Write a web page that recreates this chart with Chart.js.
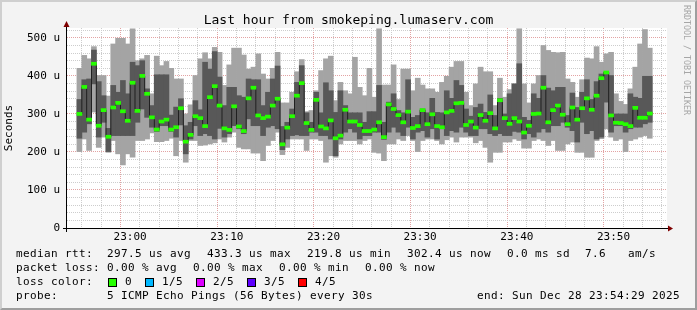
<!DOCTYPE html>
<html>
<head>
<meta charset="utf-8">
<title>smokeping</title>
<script src="https://cdn.jsdelivr.net/npm/chart.js@4/dist/chart.umd.min.js"></script>
<style>
  html, body { margin: 0; padding: 0; background: #f3f3f3; }
  #wrap { position: relative; width: 697px; height: 310px; overflow: hidden; font-family: 'DejaVu Sans Mono', monospace; color: #000; }
  #frame { position: absolute; left: 0; top: 0; width: 697px; height: 310px; box-sizing: border-box;
           border-top: 2px solid #cfcfcf; border-left: 2px solid #cfcfcf;
           border-right: 2px solid #9e9e9e; border-bottom: 2px solid #9e9e9e; pointer-events: none; }
  canvas { position: absolute; left: 0; top: 0; }
  .t { position: absolute; white-space: pre; font-size: 11px; line-height: 14px; letter-spacing: 0.38px; }
  .box { position: absolute; width: 7px; height: 7px; border: 1px solid #000; }
  #title { position: absolute; left: 0; width: 697px; top: 12px; text-align: center; font-size: 13px; line-height: 15px; }
  #brand { position: absolute; left: 682px; top: 5px; writing-mode: vertical-rl; font-size: 8.3px; color: #a6a6a6; white-space: pre; }
</style>
</head>
<body>
<div id="wrap">
  <canvas id="chart" width="697" height="310"></canvas>
  <div id="title">Last hour from smokeping.lumaserv.com</div>
  <div id="brand">RRDTOOL / TOBI OETIKER</div>

  <div class="t" style="left:16px;top:247px">median rtt:</div>
  <div class="t" style="left:107px;top:247px">297.5 us avg</div>
  <div class="t" style="left:207px;top:247px">433.3 us max</div>
  <div class="t" style="left:307px;top:247px">219.8 us min</div>
  <div class="t" style="left:407px;top:247px">302.4 us now</div>
  <div class="t" style="left:507px;top:247px">0.0 ms sd</div>
  <div class="t" style="left:585px;top:247px">7.6</div>
  <div class="t" style="left:628px;top:247px">am/s</div>

  <div class="t" style="left:16px;top:261px">packet loss:</div>
  <div class="t" style="left:107px;top:261px">0.00 % avg</div>
  <div class="t" style="left:193px;top:261px">0.00 % max</div>
  <div class="t" style="left:279px;top:261px">0.00 % min</div>
  <div class="t" style="left:365px;top:261px">0.00 % now</div>

  <div class="t" style="left:16px;top:275px">loss color:</div>
  <div id="lossLegend"></div>

  <div class="t" style="left:16px;top:289px">probe:</div>
  <div class="t" style="left:107px;top:289px">5 ICMP Echo Pings (56 Bytes) every 30s</div>
  <div class="t" style="right:17px;top:289px">end: Sun Dec 28 23:54:29 2025</div>

  <div id="frame"></div>
</div>

<script>
// 30s steps, first column starts 22:54:30 (minutes after 22:00)
const firstMinute = 54.5;
const stepMinutes = 0.5;

// sorted pings per step (microseconds): max, 4th, median, 2nd, min
const pingMax = [
  420, 454, 445, 477, 401, 401, 347, 484, 499, 499,
  484, 524, 440, 445, 454, 353, 452, 427, 438, 420,
  392, 392, 300, 324, 401, 445, 461, 445, 475, 462,
  375, 429, 473, 473, 455, 418, 423, 458, 405, 392,
  420, 462, 329, 329, 357, 411, 443, 306, 309, 361,
  414, 445, 452, 335, 383, 361, 353, 449, 370, 348,
  420, 344, 524, 376, 376, 429, 338, 418, 418, 361,
  394, 376, 366, 366, 357, 383, 399, 423, 438, 438,
  357, 322, 379, 423, 411, 411, 322, 394, 344, 364,
  379, 524, 379, 329, 379, 401, 480, 467, 462, 461,
  462, 392, 383, 344, 390, 447, 445, 477, 436, 458,
  462, 353, 333, 325, 366, 423, 484, 522, 473
];
const pingQ3 = [
  338, 390, 392, 468, 385, 348, 262, 375, 357, 388,
  353, 436, 427, 440, 366, 322, 403, 403, 403, 297,
  318, 340, 269, 278, 335, 311, 436, 418, 464, 397,
  322, 370, 370, 348, 344, 392, 390, 390, 322, 357,
  392, 426, 267, 278, 313, 383, 427, 303, 278, 357,
  303, 382, 361, 304, 361, 322, 303, 303, 303, 278,
  306, 306, 375, 278, 331, 353, 309, 303, 390, 291,
  296, 313, 303, 341, 304, 303, 361, 341, 388, 375,
  313, 294, 317, 326, 304, 350, 296, 341, 300, 353,
  379, 432, 291, 283, 353, 341, 401, 368, 361, 370,
  370, 296, 355, 317, 357, 390, 338, 385, 405, 410,
  401, 300, 300, 300, 353, 344, 341, 399, 399
];
const pingMedian = [
  300, 371, 285, 432, 269, 310, 240, 317, 329, 307,
  282, 382, 308, 400, 353, 291, 259, 280, 285, 259,
  265, 315, 227, 245, 294, 289, 268, 344, 373, 322,
  262, 258, 320, 267, 255, 341, 369, 296, 289, 293,
  322, 340, 220, 264, 294, 348, 381, 276, 258, 337,
  267, 262, 283, 236, 243, 311, 280, 280, 271, 255,
  255, 259, 278, 239, 325, 313, 297, 278, 306, 263,
  268, 310, 273, 299, 268, 265, 304, 308, 328, 329,
  271, 280, 264, 297, 282, 302, 262, 336, 289, 274,
  289, 280, 251, 269, 300, 301, 369, 278, 310, 322,
  298, 273, 317, 285, 315, 341, 311, 348, 394, 409,
  296, 277, 276, 273, 268, 316, 290, 290, 301
];
const pingQ1 = [
  236, 252, 274, 379, 239, 278, 201, 243, 243, 243,
  243, 243, 278, 313, 291, 265, 254, 269, 269, 254,
  239, 271, 195, 234, 269, 243, 248, 243, 234, 262,
  239, 248, 269, 261, 248, 287, 269, 269, 243, 265,
  269, 261, 206, 234, 243, 245, 243, 243, 252, 252,
  243, 243, 234, 190, 234, 252, 261, 252, 234, 243,
  243, 252, 252, 233, 252, 265, 252, 243, 265, 234,
  252, 256, 239, 261, 234, 261, 243, 256, 252, 265,
  252, 243, 243, 261, 261, 248, 243, 248, 243, 243,
  254, 252, 234, 248, 239, 252, 261, 252, 269, 269,
  278, 265, 256, 226, 278, 248, 256, 234, 239, 331,
  252, 269, 269, 252, 261, 265, 265, 274, 278
];
const pingMin = [
  201, 234, 204, 305, 212, 239, 199, 230, 195, 166,
  195, 186, 230, 230, 234, 250, 227, 227, 230, 236,
  190, 230, 173, 230, 230, 217, 218, 221, 224, 234,
  226, 239, 252, 212, 208, 208, 197, 197, 177, 217,
  230, 252, 193, 212, 234, 234, 234, 204, 234, 234,
  230, 173, 190, 186, 221, 230, 230, 230, 221, 230,
  234, 199, 197, 177, 221, 221, 234, 230, 243, 230,
  201, 230, 234, 234, 230, 221, 232, 239, 226, 239,
  239, 239, 224, 230, 212, 173, 199, 199, 226, 226,
  234, 230, 210, 210, 230, 234, 230, 217, 230, 204,
  204, 221, 226, 199, 199, 186, 186, 230, 235, 261,
  239, 230, 234, 201, 230, 234, 239, 243, 236
];

const lossLabels = ['0', '1/5', '2/5', '3/5', '4/5'];
const lossColors = ['#26ff00', '#00b8ff', '#dd00ff', '#5e00ff', '#ff0000'];
const lossBoxX = [108, 145, 196, 247, 298];

// loss colour legend
const lossLegend = document.getElementById('lossLegend');
lossLabels.forEach((lab, i) => {
  const b = document.createElement('div');
  b.className = 'box';
  b.style.left = lossBoxX[i] + 'px';
  b.style.top = '278px';
  b.style.background = lossColors[i];
  lossLegend.appendChild(b);
  const t = document.createElement('div');
  t.className = 't';
  t.style.left = (lossBoxX[i] + 17) + 'px';
  t.style.top = '275px';
  t.textContent = lab;
  lossLegend.appendChild(t);
});

const xs = pingMedian.map((_, i) => firstMinute + stepMinutes * (i + 0.5));
const span = (lo, hi) => lo.map((v, i) => ({ x: xs[i], y: [v, hi[i]] }));
const medianHalf = 4; // stripe half height in us

const majorGrid = '#e3a3a3';
const minorGrid = '#cdcdcd';
const monoFont = { family: 'DejaVu Sans Mono', size: 11 };

// white canvas, axis lines and rrdtool arrows
const rrdFrame = {
  id: 'rrdFrame',
  beforeDraw(chart) {
    const { ctx, chartArea: a } = chart;
    ctx.save();
    ctx.fillStyle = '#ffffff';
    ctx.fillRect(a.left, a.top, a.right - a.left, a.bottom - a.top);
    ctx.restore();
  },
  afterDraw(chart) {
    const { ctx, chartArea: a } = chart;
    const yx = a.left - 0.5, xy = a.bottom + 0.5;
    ctx.save();
    ctx.strokeStyle = '#000';
    ctx.lineWidth = 1;
    ctx.beginPath();
    ctx.moveTo(a.left - 4, xy); ctx.lineTo(a.right + 2, xy);
    ctx.moveTo(yx, a.bottom + 4); ctx.lineTo(yx, a.top - 2);
    ctx.stroke();
    ctx.fillStyle = '#7f0000';
    ctx.beginPath();
    ctx.moveTo(a.right + 1, xy - 3); ctx.lineTo(a.right + 6, xy); ctx.lineTo(a.right + 1, xy + 3);
    ctx.closePath(); ctx.fill();
    ctx.beginPath();
    ctx.moveTo(yx - 3, a.top - 1); ctx.lineTo(yx, a.top - 7); ctx.lineTo(yx + 3, a.top - 1);
    ctx.closePath(); ctx.fill();
    ctx.restore();
  }
};

const barCommon = { grouped: false, barThickness: 5, borderWidth: 0 };

new Chart(document.getElementById('chart'), {
  type: 'bar',
  data: {
    datasets: [
      Object.assign({ data: span(pingMin, pingMax), backgroundColor: '#a4a4a4', order: 4 }, barCommon),
      Object.assign({ data: span(pingQ1, pingQ3), backgroundColor: '#585858', order: 3 }, barCommon),
      {
        type: 'line',
        data: pingMedian.map((v, i) => ({ x: xs[i], y: v })),
        borderColor: '#202020',
        borderWidth: 1,
        stepped: 'middle',
        pointRadius: 0,
        order: 2
      },
      Object.assign({
        data: pingMedian.map((v, i) => ({ x: xs[i], y: [v - medianHalf, v + medianHalf] })),
        backgroundColor: lossColors[0],
        order: 1
      }, barCommon)
    ]
  },
  options: {
    responsive: false,
    animation: false,
    layout: { padding: { left: 0, right: 30, top: 28, bottom: 62 } },
    plugins: { legend: { display: false }, tooltip: { enabled: false } },
    scales: {
      x: {
        type: 'linear',
        min: 54.5,
        max: 114.5,
        afterBuildTicks: (scale) => {
          const t = [];
          for (let v = 56; v <= 114; v += 2) t.push({ value: v });
          scale.ticks = t;
        },
        afterFit: (scale) => { scale.height = 20; },
        grid: {
          drawTicks: false,
          color: (c) => (c.tick && c.tick.value % 10 === 0 ? majorGrid : minorGrid)
        },
        border: { display: false, dash: [1, 1] },
        ticks: {
          autoSkip: false,
          maxRotation: 0,
          padding: 3,
          color: '#000',
          font: monoFont,
          callback: (v) => {
            if (v % 10 !== 0) return '';
            const h = 22 + Math.floor(v / 60);
            const m = v % 60;
            return h + ':' + String(m).padStart(2, '0');
          }
        }
      },
      y: {
        min: 0,
        max: 526,
        afterBuildTicks: (scale) => {
          const t = [];
          for (let v = 0; v <= 520; v += 20) t.push({ value: v });
          scale.ticks = t;
        },
        afterFit: (scale) => { scale.width = 67; },
        grid: {
          drawTicks: false,
          color: (c) => (c.tick && c.tick.value % 100 === 0 ? majorGrid : minorGrid)
        },
        border: { display: false, dash: [1, 1] },
        title: { display: true, text: 'Seconds', color: '#000', font: monoFont, padding: { top: 3, bottom: 0 } },
        ticks: {
          autoSkip: false,
          padding: 7,
          color: '#000',
          font: monoFont,
          callback: (v) => (v % 100 !== 0 ? '' : (v === 0 ? '0' : v + ' u'))
        }
      }
    }
  },
  plugins: [rrdFrame]
});
</script>
</body>
</html>
